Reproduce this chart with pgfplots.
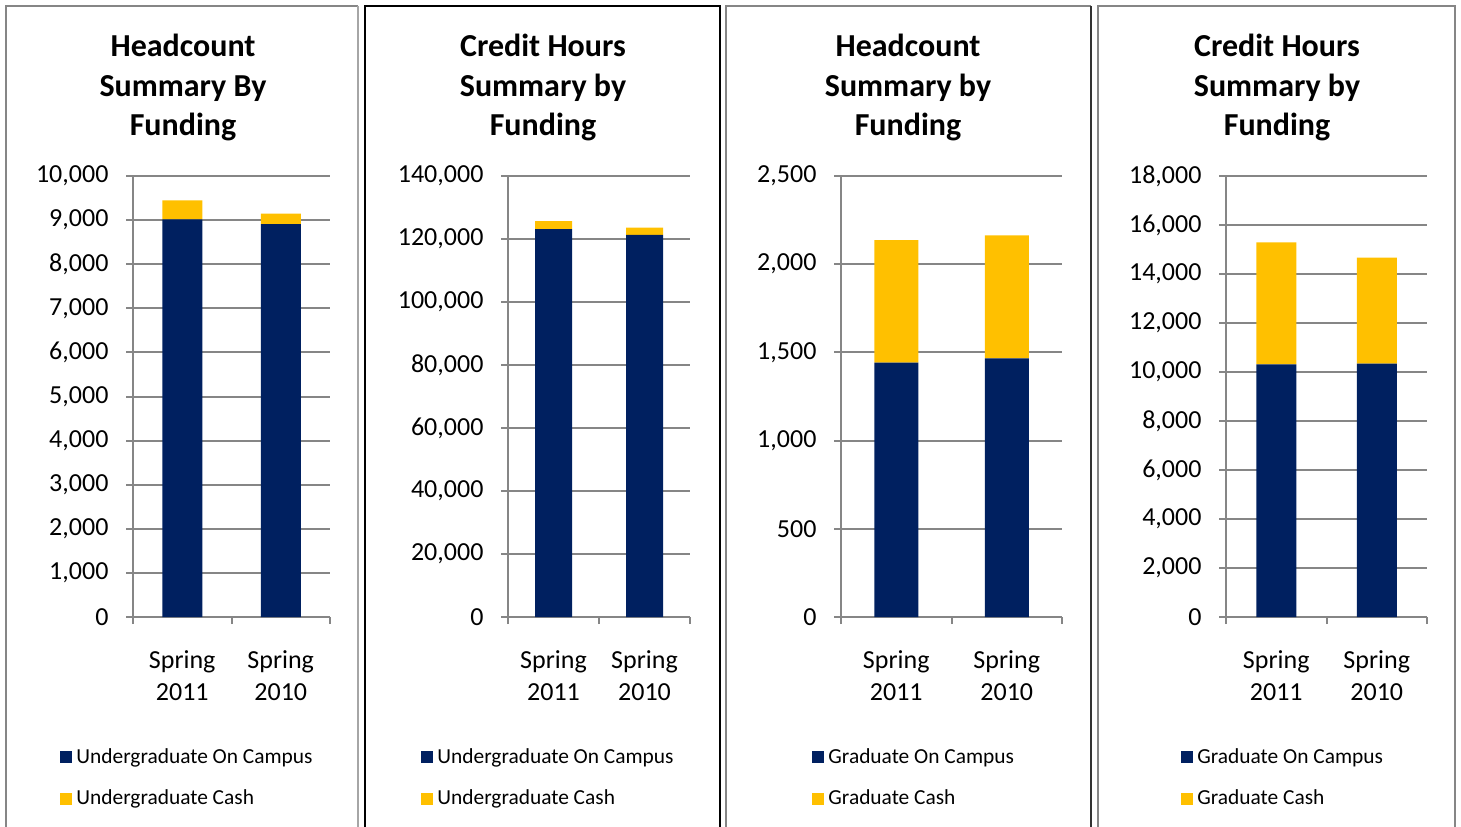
\documentclass[border=0pt]{standalone}
\usepackage{fontspec}
\setmainfont{Carlito}
\usepackage{pgfplots}
\pgfplotsset{compat=1.18}
\definecolor{navy}{HTML}{002060}
\definecolor{gold}{HTML}{FFC000}
\definecolor{gridgray}{HTML}{868686}

\pgfplotsset{
  panel/.style={
    scale only axis, anchor=south west,
    height=220.5pt,
    ybar stacked,
    xmin=-0.5, xmax=1.5, ymin=0,
    xtick={-0.5,0.5,1.5}, xticklabels={{},{},{}},
    extra x ticks={0,1},
    extra x tick labels={{Spring\\2011},{Spring\\2010}},
    extra x tick style={major tick length=0pt},
    axis x line*=bottom, axis y line*=left,
    axis line style={gridgray, line width=1pt},
    tick align=outside,
    major tick length=3.5pt,
    tick style={gridgray, line width=1pt},
    ymajorgrids, grid style={gridgray, line width=1pt},
    scaled y ticks=false,
    tick label style={font=\fontsize{13}{16}\selectfont},
    xticklabel style={align=center, yshift=-13.5pt},
    yticklabel style={xshift=-5.25pt},
    legend cell align=left,
    legend image code/.code={\fill[#1] (0pt,-3pt) rectangle (6pt,3pt);},
    legend style={draw=none, fill=none, inner sep=0pt,
      font=\fontsize{10.7}{13}\selectfont, anchor=west, row sep=8pt},
  },
  navybar/.style={fill=navy, draw=none},
  goldbar/.style={fill=gold, draw=none},
}

\begin{document}
\begin{tikzpicture}
\useasboundingbox (0,0) rectangle (730.5pt,413pt);
% panel borders
\draw[gridgray, line width=1pt] (3pt,-2pt) -- (3pt,410pt) -- (179pt,410pt);
\draw[gray!70, line width=1pt] (179pt,410pt) -- (179pt,-2pt);
\draw[black, line width=1pt] (182.5pt,-2pt) -- (182.5pt,410pt) -- (359.75pt,410pt) -- (359.75pt,-2pt);
\draw[gridgray, line width=1pt] (362.75pt,-2pt) -- (362.75pt,410pt) -- (545.5pt,410pt);
\draw[black!80, line width=0.6pt] (545.5pt,410pt) -- (545.5pt,-2pt);
\draw[gridgray, line width=1pt] (548.75pt,-2pt) -- (548.75pt,410pt) -- (727.5pt,410pt) -- (727.5pt,-2pt);

% titles
\tikzset{ttl/.style={font=\bfseries\fontsize{16}{19}\selectfont, anchor=base, inner sep=0pt}}
\node[ttl] at (91.5pt,384.5pt) {Headcount};
\node[ttl] at (91.5pt,364.5pt) {Summary By};
\node[ttl] at (91.5pt,345pt) {Funding};
\node[ttl] at (271.5pt,384.5pt) {Credit Hours};
\node[ttl] at (271.5pt,364.5pt) {Summary by};
\node[ttl] at (271.5pt,345pt) {Funding};
\node[ttl] at (454pt,384.5pt) {Headcount};
\node[ttl] at (454pt,364.5pt) {Summary by};
\node[ttl] at (454pt,345pt) {Funding};
\node[ttl] at (638.5pt,384.5pt) {Credit Hours};
\node[ttl] at (638.5pt,364.5pt) {Summary by};
\node[ttl] at (638.5pt,345pt) {Funding};

% Panel 1
\begin{axis}[panel, at={(66.5pt,104.5pt)}, width=98.5pt, bar width=20pt,
  ymax=10000, ytick={0,1000,2000,3000,4000,5000,6000,7000,8000,9000,10000},
  yticklabels={0,{1,000},{2,000},{3,000},{4,000},{5,000},{6,000},{7,000},{8,000},{9,000},{10,000}},
  legend style={at={(axis description cs:-0.3706,-0.3651)}}]
\addplot[navybar] coordinates {(0,9015) (1,8910)};
\addplot[goldbar] coordinates {(0,432) (1,235)};
\legend{Undergraduate On Campus, Undergraduate Cash}
\end{axis}

% Panel 2
\begin{axis}[panel, at={(254pt,104.5pt)}, width=91pt, bar width=18.5pt,
  ymax=140000, ytick={0,20000,40000,60000,80000,100000,120000,140000},
  yticklabels={0,{20,000},{40,000},{60,000},{80,000},{100,000},{120,000},{140,000}},
  legend style={at={(axis description cs:-0.478,-0.3651)}}]
\addplot[navybar] coordinates {(0,123100) (1,121300)};
\addplot[goldbar] coordinates {(0,2600) (1,2300)};
\legend{Undergraduate On Campus, Undergraduate Cash}
\end{axis}

% Panel 3
\begin{axis}[panel, at={(420.5pt,104.5pt)}, width=110.5pt, bar width=22pt,
  ymax=2500, ytick={0,500,1000,1500,2000,2500},
  yticklabels={0,500,{1,000},{1,500},{2,000},{2,500}},
  legend style={at={(axis description cs:-0.131,-0.3651)}}]
\addplot[navybar] coordinates {(0,1442) (1,1466)};
\addplot[goldbar] coordinates {(0,695) (1,698)};
\legend{Graduate On Campus, Graduate Cash}
\end{axis}

% Panel 4
\begin{axis}[panel, at={(613pt,104.5pt)}, width=100.5pt, bar width=20pt,
  ymax=18000, ytick={0,2000,4000,6000,8000,10000,12000,14000,16000,18000},
  yticklabels={0,{2,000},{4,000},{6,000},{8,000},{10,000},{12,000},{14,000},{16,000},{18,000}},
  legend style={at={(axis description cs:-0.224,-0.3651)}}]
\addplot[navybar] coordinates {(0,10310) (1,10340)};
\addplot[goldbar] coordinates {(0,4980) (1,4325)};
\legend{Graduate On Campus, Graduate Cash}
\end{axis}
\end{tikzpicture}
\end{document}
